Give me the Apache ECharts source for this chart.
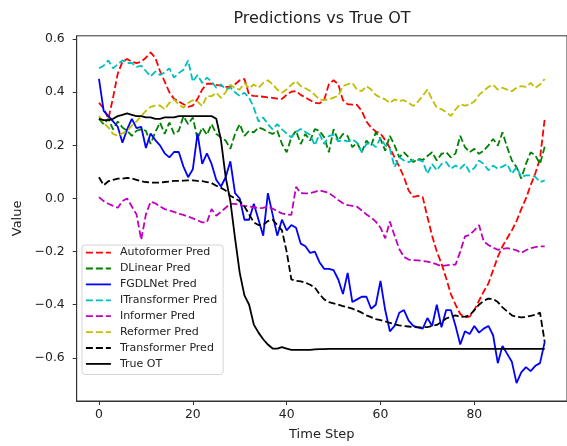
<!DOCTYPE html>
<html>
<head>
<meta charset="utf-8">
<title>Predictions vs True OT</title>
<script src="https://cdn.jsdelivr.net/npm/echarts@6/dist/echarts.min.js"></script>
<style>
  html, body { margin: 0; padding: 0; background: #fff; }
  #echart_show { width: 567px; height: 446px; }
</style>
</head>
<body>
<div id="echart_show"></div>
<script>
// 横轴 0..95
var timeSteps = [];
for (var t = 0; t < 96; t++) { timeSteps.push(t); }

var xTicks = [0, 20, 40, 60, 80];
var yTicks = [-0.6, -0.4, -0.2, 0.0, 0.2, 0.4, 0.6];

var autoformerPred = [
  0.36, 0.34, 0.30, 0.38, 0.47, 0.515, 0.525, 0.515, 0.51, 0.515,
  0.53, 0.55, 0.53, 0.48, 0.44, 0.40, 0.375, 0.365, 0.355, 0.345,
  0.35, 0.375, 0.41, 0.432, 0.432, 0.428, 0.425, 0.42, 0.42, 0.43,
  0.445, 0.45, 0.39, 0.386, 0.385, 0.383, 0.381, 0.379, 0.376, 0.375,
  0.39, 0.402, 0.404, 0.39, 0.38, 0.37, 0.36, 0.358, 0.372, 0.43,
  0.445, 0.43, 0.37, 0.355, 0.353, 0.352, 0.33, 0.29, 0.267, 0.252,
  0.245, 0.22, 0.19, 0.155, 0.12, 0.08, 0.03, 0.006, 0.01, 0.005,
  -0.07, -0.14, -0.20, -0.245, -0.30, -0.36, -0.40, -0.435, -0.448, -0.445,
  -0.42, -0.385, -0.35, -0.32, -0.27, -0.22, -0.18, -0.15, -0.12, -0.085,
  -0.04, 0.0, 0.05, 0.095, 0.15, 0.30
];

var dlinearPred = [
  0.30, 0.28, 0.30, 0.26, 0.29, 0.267, 0.255, 0.236, 0.255, 0.26,
  0.255, 0.205, 0.25, 0.286, 0.243, 0.286, 0.243, 0.255, 0.31, 0.28,
  0.305, 0.224, 0.267, 0.24, 0.28, 0.243, 0.23, 0.218, 0.187, 0.243,
  0.28, 0.236, 0.255, 0.249, 0.267, 0.261, 0.25, 0.243, 0.255, 0.205,
  0.174, 0.23, 0.255, 0.205, 0.243, 0.218, 0.261, 0.255, 0.23, 0.174,
  0.261, 0.218, 0.243, 0.235, 0.193, 0.21, 0.174, 0.218, 0.199, 0.249,
  0.224, 0.18, 0.236, 0.2, 0.155, 0.174, 0.155, 0.137, 0.149, 0.145,
  0.16, 0.174, 0.143, 0.168, 0.174, 0.155, 0.17, 0.236, 0.193, 0.174,
  0.187, 0.168, 0.18, 0.2, 0.224, 0.199, 0.249, 0.193, 0.143, 0.118,
  0.075, 0.13, 0.174, 0.162, 0.13, 0.195
];

var fgdlnetPred = [
  0.45, 0.33, 0.31, 0.29, 0.27, 0.21, 0.26, 0.30, 0.265, 0.27,
  0.19, 0.245, 0.22, 0.20, 0.17, 0.155, 0.175, 0.175, 0.12, 0.08,
  0.11, 0.245, 0.13, 0.17, 0.13, 0.07, 0.045, 0.08, 0.14, 0.02,
  0.0, -0.08, -0.08, -0.02, -0.08, -0.14, 0.02, -0.06, -0.14, -0.08,
  -0.12, -0.10, -0.11, -0.17, -0.18, -0.205, -0.20, -0.24, -0.265, -0.265,
  -0.27, -0.305, -0.36, -0.28, -0.39, -0.38, -0.37, -0.37, -0.415, -0.40,
  -0.31, -0.42, -0.50, -0.48, -0.43, -0.42, -0.46, -0.48, -0.485, -0.49,
  -0.45, -0.48, -0.40, -0.485, -0.42, -0.42, -0.48, -0.55, -0.50, -0.51,
  -0.48, -0.505, -0.49, -0.48, -0.515, -0.62, -0.555, -0.585, -0.615, -0.695,
  -0.655, -0.635, -0.65, -0.63, -0.62, -0.54
];

var itransformerPred = [
  0.49, 0.50, 0.52, 0.49, 0.505, 0.52, 0.51, 0.51, 0.495, 0.50,
  0.48, 0.46, 0.478, 0.465, 0.475, 0.49, 0.455, 0.472, 0.485, 0.52,
  0.44, 0.465, 0.435, 0.455, 0.44, 0.417, 0.43, 0.41, 0.417, 0.40,
  0.386, 0.398, 0.379, 0.342, 0.29, 0.305, 0.28, 0.26, 0.28, 0.26,
  0.245, 0.23, 0.25, 0.262, 0.25, 0.24, 0.20, 0.243, 0.205, 0.235,
  0.24, 0.215, 0.22, 0.215, 0.222, 0.21, 0.175, 0.205, 0.21, 0.193,
  0.228, 0.20, 0.187, 0.118, 0.155, 0.143, 0.137, 0.145, 0.145, 0.14,
  0.093, 0.13, 0.106, 0.13, 0.137, 0.112, 0.124, 0.112, 0.13, 0.10,
  0.115, 0.143, 0.13, 0.106, 0.124, 0.112, 0.12, 0.13, 0.093, 0.118,
  0.081, 0.087, 0.087, 0.081, 0.062, 0.068
];

var informerPred = [
  0.005, -0.01, -0.02, -0.028, -0.035, -0.01, 0.0, -0.03, -0.06, -0.155,
  -0.06, -0.012, -0.018, -0.03, -0.04, -0.045, -0.05, -0.058, -0.062, -0.068,
  -0.075, -0.082, -0.09, -0.09, -0.04, -0.065, -0.05, -0.035, -0.02, -0.02,
  -0.025, -0.028, -0.03, -0.033, -0.037, -0.035, -0.031, -0.038, -0.048, -0.056,
  -0.06, -0.062, 0.044, 0.02, 0.019, 0.02, 0.025, 0.031, 0.026, 0.021,
  0.008, -0.006, -0.018, -0.025, -0.028, -0.031, -0.045, -0.06, -0.072, -0.087,
  -0.11, -0.15, -0.087, -0.14, -0.19, -0.22, -0.23, -0.232, -0.233, -0.235,
  -0.238, -0.242, -0.248, -0.255, -0.252, -0.249, -0.249, -0.20, -0.143, -0.137,
  -0.12, -0.10, -0.162, -0.175, -0.185, -0.193, -0.19, -0.187, -0.19, -0.195,
  -0.205, -0.195, -0.187, -0.183, -0.18, -0.18
];

var reformerPred = [
  0.31, 0.285, 0.267, 0.243, 0.236, 0.245, 0.255, 0.274, 0.29, 0.31,
  0.33, 0.345, 0.35, 0.35, 0.336, 0.36, 0.373, 0.354, 0.342, 0.36,
  0.37, 0.365, 0.348, 0.386, 0.385, 0.398, 0.379, 0.40, 0.428, 0.415,
  0.41, 0.435, 0.415, 0.429, 0.417, 0.435, 0.445, 0.43, 0.41, 0.398,
  0.41, 0.428, 0.442, 0.423, 0.415, 0.405, 0.39, 0.373, 0.37, 0.373,
  0.38, 0.386, 0.423, 0.43, 0.435, 0.41, 0.404, 0.423, 0.41, 0.39,
  0.38, 0.373, 0.36, 0.373, 0.367, 0.37, 0.36, 0.348, 0.365, 0.386,
  0.41, 0.373, 0.342, 0.336, 0.325, 0.311, 0.335, 0.355, 0.35, 0.354,
  0.365, 0.39, 0.405, 0.42, 0.428, 0.41, 0.417, 0.41, 0.404, 0.417,
  0.423, 0.42, 0.435, 0.417, 0.429, 0.45
];

var transformerPred = [
  0.08, 0.05, 0.065, 0.07, 0.075, 0.075, 0.078, 0.075, 0.07, 0.065,
  0.062, 0.06, 0.06, 0.06, 0.062, 0.064, 0.066, 0.066, 0.067, 0.068,
  0.068, 0.066, 0.065, 0.062, 0.058, 0.048, 0.04, 0.03, 0.01, 0.0,
  -0.01, -0.03, -0.06, -0.09, -0.10, -0.10, -0.085, -0.08, -0.10, -0.12,
  -0.20, -0.305, -0.31, -0.312, -0.317, -0.325, -0.335, -0.36, -0.38, -0.39,
  -0.395, -0.40, -0.405, -0.41, -0.415, -0.422, -0.43, -0.44, -0.447, -0.454,
  -0.458, -0.463, -0.468, -0.474, -0.478, -0.48, -0.482, -0.484, -0.485, -0.485,
  -0.484, -0.48, -0.476, -0.465, -0.452, -0.445, -0.44, -0.446, -0.445, -0.44,
  -0.42, -0.40, -0.385, -0.377, -0.378, -0.39, -0.41, -0.425, -0.44, -0.445,
  -0.448, -0.446, -0.442, -0.438, -0.43, -0.54
];

var trueOT = [
  0.30, 0.295, 0.295, 0.30, 0.31, 0.315, 0.32, 0.315, 0.31, 0.31,
  0.305, 0.305, 0.30, 0.30, 0.305, 0.305, 0.305, 0.31, 0.31, 0.31,
  0.31, 0.31, 0.31, 0.31, 0.31, 0.30, 0.22, 0.08, -0.01, -0.15,
  -0.28, -0.365, -0.40, -0.475, -0.505, -0.53, -0.55, -0.565, -0.565, -0.56,
  -0.565, -0.57, -0.57, -0.57, -0.57, -0.57, -0.568, -0.567, -0.567, -0.566,
  -0.566, -0.566, -0.566, -0.566, -0.566, -0.566, -0.566, -0.566, -0.566, -0.566,
  -0.566, -0.566, -0.566, -0.566, -0.566, -0.566, -0.566, -0.566, -0.566, -0.566,
  -0.566, -0.566, -0.566, -0.566, -0.566, -0.566, -0.566, -0.566, -0.566, -0.566,
  -0.566, -0.566, -0.566, -0.566, -0.566, -0.566, -0.566, -0.566, -0.566, -0.566,
  -0.566, -0.566, -0.566, -0.566, -0.566, -0.566
];

var seriesNames = ['Autoformer Pred', 'DLinear Pred', 'FGDLNet Pred', 'ITransformer Pred',
  'Informer Pred', 'Reformer Pred', 'Transformer Pred', 'True OT'];
var seriesColors = ['#ff0000', '#008000', '#0000ff', '#00bfbf', '#bf00bf', '#bfbf00', '#000000', '#000000'];
var seriesDashed = [true, true, false, true, true, true, true, false];
var seriesValues = [autoformerPred, dlinearPred, fgdlnetPred, itransformerPred,
  informerPred, reformerPred, transformerPred, trueOT];

var font = 'DejaVu Sans';

// matplotlib 风格的负号
var fmtY = function (v) {
  var s = Math.abs(v).toFixed(1);
  return v < -1e-9 ? '\u2212' + s : s;
};

var init_echarts = function () {
  var chart = echarts.init(document.getElementById('echart_show'), null, { renderer: 'canvas' });

  var series = [];
  for (var i = 0; i < seriesNames.length; i++) {
    var pts = [];
    for (var j = 0; j < timeSteps.length; j++) {
      pts.push([timeSteps[j], seriesValues[i][j]]);
    }
    series.push({
      name: seriesNames[i],
      type: 'line',
      data: pts,
      symbol: 'none',
      showSymbol: false,
      silent: true,
      color: seriesColors[i],
      lineStyle: {
        color: seriesColors[i],
        width: 1.8,
        type: seriesDashed[i] ? [7, 3] : 'solid'
      }
    });
  }

  var option = {
    backgroundColor: '#ffffff',
    animation: false,
    title: {
      text: 'Predictions vs True OT',
      left: 322,
      top: 11,
      padding: 0,
      textAlign: 'center',
      textStyle: { fontFamily: font, fontSize: 16, fontWeight: 'normal', color: '#222' }
    },
    legend: {
      orient: 'vertical',
      left: 82,
      top: 245,
      padding: [2, 6, 5, 3],
      itemWidth: 25,
      itemHeight: 14,
      itemGap: 4.7,
      backgroundColor: 'rgba(255,255,255,0.8)',
      borderColor: '#d5d5d5',
      borderWidth: 1,
      borderRadius: 3,
      // 隐藏图例中间的圆点，只保留线段
      itemStyle: { opacity: 0 },
      lineStyle: { width: 1.8 },
      textStyle: { fontFamily: font, fontSize: 11, color: '#222', padding: [0, 0, 0, 4] },
      data: seriesNames
    },
    grid: {
      left: 76.7,
      top: 35.8,
      width: 492.5,
      height: 368.6,
      show: true,
      borderColor: '#333',
      borderWidth: 1,
      backgroundColor: 'transparent'
    },
    xAxis: {
      type: 'value',
      min: -4.75,
      max: 99.75,
      name: 'Time Step',
      nameLocation: 'middle',
      nameGap: 27,
      nameTextStyle: { fontFamily: font, fontSize: 13, color: '#222' },
      axisLine: { show: true, onZero: false, lineStyle: { color: '#333', width: 1 } },
      axisTick: { show: true, length: 4, customValues: xTicks, lineStyle: { color: '#333' } },
      axisLabel: { show: true, margin: 8, customValues: xTicks, fontFamily: font, fontSize: 12.4, color: '#222' },
      splitLine: { show: false }
    },
    yAxis: {
      type: 'value',
      min: -0.7625,
      max: 0.6125,
      name: 'Value',
      nameLocation: 'middle',
      nameGap: 52,
      nameTextStyle: { fontFamily: font, fontSize: 13, color: '#222' },
      axisLine: { show: true, onZero: false, lineStyle: { color: '#333', width: 1 } },
      axisTick: { show: true, length: 4, customValues: yTicks, lineStyle: { color: '#333' } },
      axisLabel: { show: true, margin: 12, customValues: yTicks, formatter: fmtY, fontFamily: font, fontSize: 12.4, color: '#222' },
      splitLine: { show: false }
    },
    series: series
  };

  chart.setOption(option);
};

init_echarts();
</script>
</body>
</html>
